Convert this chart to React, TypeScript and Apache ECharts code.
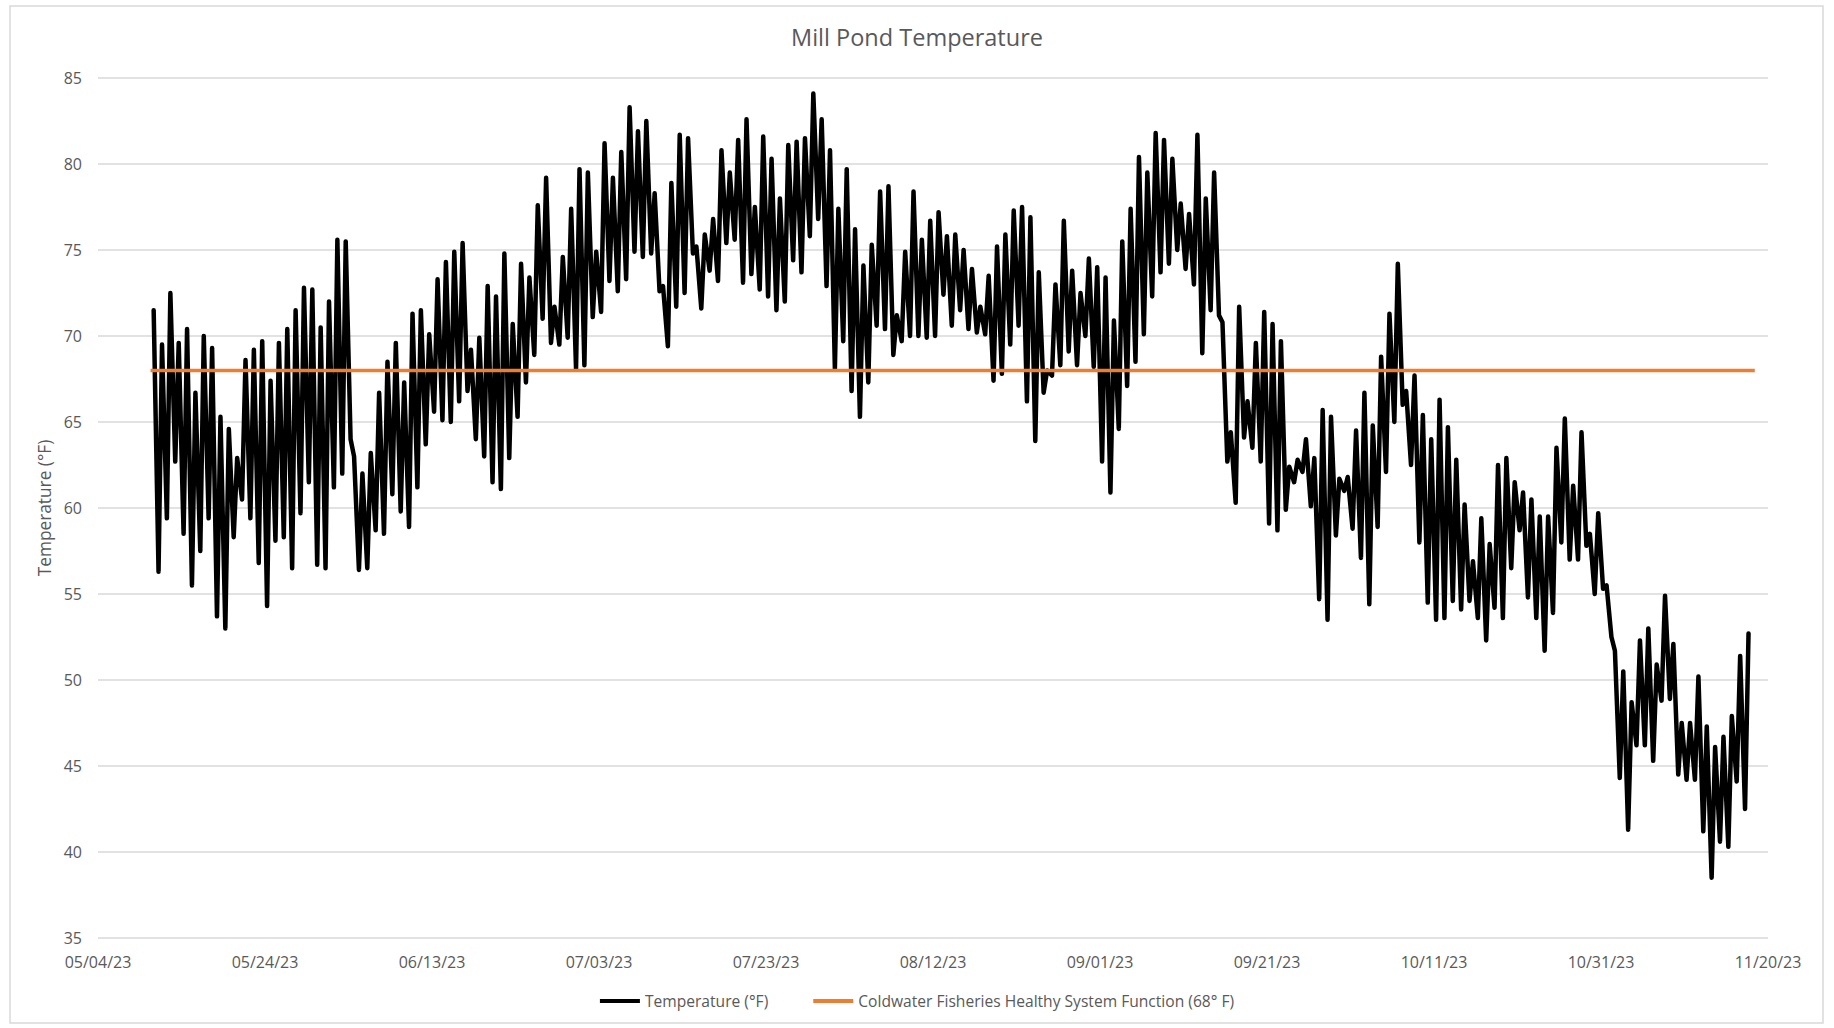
import React, { useEffect, useRef } from "react";
import * as echarts from "echarts";

// Axis origin (first x tick) and first logged day
const AXIS_START = Date.UTC(2023, 4, 4);
const FIRST_DAY = Date.UTC(2023, 4, 10);
const DAY_MS = 86400000;
const HOUR_MS = 3600000;

// Afternoon highs, one per day starting 05/10/23 (°F)
const dailyHighs = [
  71.5, 69.5, 72.5, 69.6, 70.4, 66.7, 70.0, 69.3, 65.3, 64.6,
  62.9, 68.6, 69.2, 69.7, 67.4, 69.6, 70.4, 71.5, 72.8, 72.7,
  70.5, 72.0, 75.6, 75.5, 63.0, 62.0, 63.2, 66.7, 68.5, 69.6,
  67.3, 71.3, 71.5, 70.1, 73.3, 74.3, 74.9, 75.4, 69.2, 69.9,
  72.9, 72.3, 74.8, 70.7, 74.2, 73.4, 77.6, 79.2, 71.7, 74.6,
  77.4, 79.7, 79.5, 74.9, 81.2, 79.2, 80.7, 83.3, 81.9, 82.5,
  78.3, 72.9, 78.9, 81.7, 81.5, 75.2, 75.9, 76.8, 80.8, 79.5,
  81.4, 82.6, 77.5, 81.6, 80.3, 78.0, 81.1, 81.3, 81.5, 84.1,
  82.6, 80.8, 77.4, 79.7, 76.2, 74.1, 75.3, 78.4, 78.7, 71.2,
  74.9, 78.4, 75.6, 76.7, 77.2, 75.8, 75.9, 75.0, 73.9, 71.7,
  73.5, 75.2, 75.9, 77.3, 77.5, 76.9, 73.7, 68.0, 73.0, 76.7,
  73.8, 72.5, 74.5, 74.0, 73.4, 70.9, 75.5, 77.4, 80.4, 79.5,
  81.8, 81.4, 80.3, 77.7, 77.1, 81.7, 78.0, 79.5, 70.8, 64.4,
  71.7, 66.2, 69.6, 71.4, 70.7, 69.7, 62.4, 62.8, 64.0, 62.9,
  65.7, 65.3, 61.7, 61.8, 64.5, 66.7, 64.8, 68.8, 71.3, 74.2,
  66.8, 67.7, 65.4, 64.0, 66.3, 64.7, 62.8, 60.2, 56.9, 59.4,
  57.9, 62.5, 62.9, 61.5, 60.9, 60.5, 59.5, 59.5, 63.5, 65.2,
  61.3, 64.4, 58.5, 59.7, 55.5, 51.7, 50.5, 48.7, 52.3, 53.0,
  50.9, 54.9, 52.1, 47.5, 47.5, 50.2, 47.3, 46.1, 46.7, 47.9,
  51.4, 52.7,
];

// Early-morning lows, each following the high of the same index (°F)
const overnightLows = [
  56.3, 59.4, 62.7, 58.5, 55.5, 57.5, 59.4, 53.7, 53.0, 58.3,
  60.5, 59.4, 56.8, 54.3, 58.1, 58.3, 56.5, 59.7, 61.5, 56.7,
  56.5, 61.2, 62.0, 64.0, 56.4, 56.5, 58.7, 58.5, 60.8, 59.8,
  58.9, 61.2, 63.7, 65.6, 65.1, 65.0, 66.2, 66.8, 64.0, 63.0,
  61.5, 61.1, 62.9, 65.3, 67.3, 68.9, 71.0, 69.6, 69.5, 69.9,
  68.1, 68.3, 71.1, 71.4, 73.2, 72.6, 73.3, 74.9, 74.6, 74.8,
  72.6, 69.4, 71.7, 72.5, 74.8, 71.6, 73.8, 73.2, 75.4, 75.6,
  73.1, 73.6, 72.7, 72.3, 71.5, 72.0, 74.4, 73.7, 75.8, 76.8,
  72.9, 68.1, 69.7, 66.8, 65.3, 67.3, 70.6, 70.4, 68.9, 69.7,
  70.0, 70.0, 69.9, 70.0, 72.4, 70.6, 71.5, 70.4, 70.2, 70.1,
  67.4, 67.8, 69.5, 70.6, 66.2, 63.9, 66.7, 67.7, 68.3, 69.1,
  68.3, 70.0, 68.2, 62.7, 60.9, 64.6, 67.1, 68.5, 70.1, 72.3,
  73.7, 74.2, 75.0, 73.9, 73.0, 69.0, 71.5, 71.2, 62.7, 60.3,
  64.1, 63.5, 62.7, 59.1, 58.7, 59.9, 61.5, 62.1, 60.1, 54.7,
  53.5, 58.4, 61.0, 58.8, 57.1, 54.4, 58.9, 62.1, 65.0, 66.0,
  62.5, 58.0, 54.5, 53.5, 53.6, 54.6, 54.1, 54.6, 53.6, 52.3,
  54.2, 53.6, 56.5, 58.7, 54.8, 53.6, 51.7, 53.9, 58.0, 57.0,
  57.0, 57.8, 55.0, 55.3, 52.5, 44.3, 41.3, 46.2, 46.2, 45.3,
  48.8, 48.9, 44.5, 44.2, 44.2, 41.2, 38.5, 40.6, 40.3, 44.1,
  42.5,
];

// Threshold line (Coldwater Fisheries healthy function)
const thresholdDates = [Date.UTC(2023, 4, 10, 7), Date.UTC(2023, 10, 18, 10)];
const thresholdValues = [68, 68];

// Axis settings
const yMin = 35;
const yMax = 85;
const yStep = 5;
const xMaxDays = 200;
const xStepDays = 20;

const SERIES_TEMP = "Temperature (°F)";
const SERIES_LIMIT = "Coldwater Fisheries Healthy System Function (68° F)";

const toDays = (t: number) => (t - AXIS_START) / DAY_MS;

function buildTemperature(): [number, number][] {
  const pts: [number, number][] = [];
  dailyHighs.forEach((h, k) => {
    pts.push([toDays(FIRST_DAY + k * DAY_MS + 16 * HOUR_MS), h]);
    if (k < overnightLows.length) {
      pts.push([toDays(FIRST_DAY + (k + 1) * DAY_MS + 6 * HOUR_MS), overnightLows[k]]);
    }
  });
  return pts;
}

function fmtDate(v: number): string {
  const d = new Date(AXIS_START + Math.round(v) * DAY_MS);
  const mm = String(d.getUTCMonth() + 1).padStart(2, "0");
  const dd = String(d.getUTCDate()).padStart(2, "0");
  const yy = String(d.getUTCFullYear() % 100).padStart(2, "0");
  return `${mm}/${dd}/${yy}`;
}

const FONT = "'Open Sans', 'Noto Sans', sans-serif";
const TEXT_COLOR = "#595959";

export default function App() {
  const ref = useRef<HTMLDivElement>(null);

  useEffect(() => {
    document.body.style.margin = "0";
    if (!ref.current) return;
    const chart = echarts.init(ref.current, undefined, { renderer: "svg" });
    const tempData = buildTemperature();
    const limitData = thresholdDates.map((t, i) => [toDays(t), thresholdValues[i]]);

    chart.setOption({
      animation: false,
      backgroundColor: "#ffffff",
      textStyle: { fontFamily: FONT },
      title: {
        text: "Mill Pond Temperature",
        left: "center",
        top: 20,
        textStyle: { color: TEXT_COLOR, fontSize: 23.5, fontWeight: "normal", fontFamily: FONT },
      },
      graphic: [
        {
          type: "rect",
          shape: { x: 10, y: 6, width: 1813, height: 1017 },
          style: { fill: "none", stroke: "#d9d9d9", lineWidth: 1.5 },
          silent: true,
        },
      ],
      grid: { left: 98, right: 66, top: 78, bottom: 90, containLabel: false },
      legend: {
        data: [
          { name: SERIES_TEMP, icon: "rect" },
          { name: SERIES_LIMIT, icon: "rect" },
        ],
        left: "center",
        top: 988,
        itemWidth: 40,
        itemHeight: 4,
        itemGap: 45,
        textStyle: { color: TEXT_COLOR, fontSize: 15.6, fontFamily: FONT },
      },
      xAxis: {
        type: "value",
        min: 0,
        max: xMaxDays,
        interval: xStepDays,
        axisLine: { show: false },
        axisTick: { show: false },
        splitLine: { show: false },
        axisLabel: {
          color: TEXT_COLOR,
          fontSize: 16,
          fontFamily: FONT,
          margin: 16,
          formatter: (v: number) => fmtDate(v),
        },
      },
      yAxis: {
        type: "value",
        min: yMin,
        max: yMax,
        interval: yStep,
        name: "Temperature (°F)",
        nameLocation: "middle",
        nameRotate: 90,
        nameGap: 42,
        nameTextStyle: { color: TEXT_COLOR, fontSize: 17.3, fontFamily: FONT },
        axisLine: { show: false },
        axisTick: { show: false },
        splitLine: { show: true, lineStyle: { color: "#d9d9d9", width: 1.5 } },
        axisLabel: { color: TEXT_COLOR, fontSize: 16, fontFamily: FONT, margin: 16 },
      },
      series: [
        {
          name: SERIES_TEMP,
          type: "line",
          data: tempData,
          showSymbol: false,
          symbol: "none",
          lineStyle: { color: "#000000", width: 4.5, join: "round", cap: "round" },
          itemStyle: { color: "#000000" },
          z: 2,
        },
        {
          name: SERIES_LIMIT,
          type: "line",
          data: limitData,
          showSymbol: false,
          symbol: "none",
          lineStyle: { color: "#ED7D31", width: 3.5 },
          itemStyle: { color: "#ED7D31" },
          z: 3,
        },
      ],
    });

    return () => chart.dispose();
  }, []);

  return <div ref={ref} style={{ width: "1834px", height: "1028px" }} />;
}
